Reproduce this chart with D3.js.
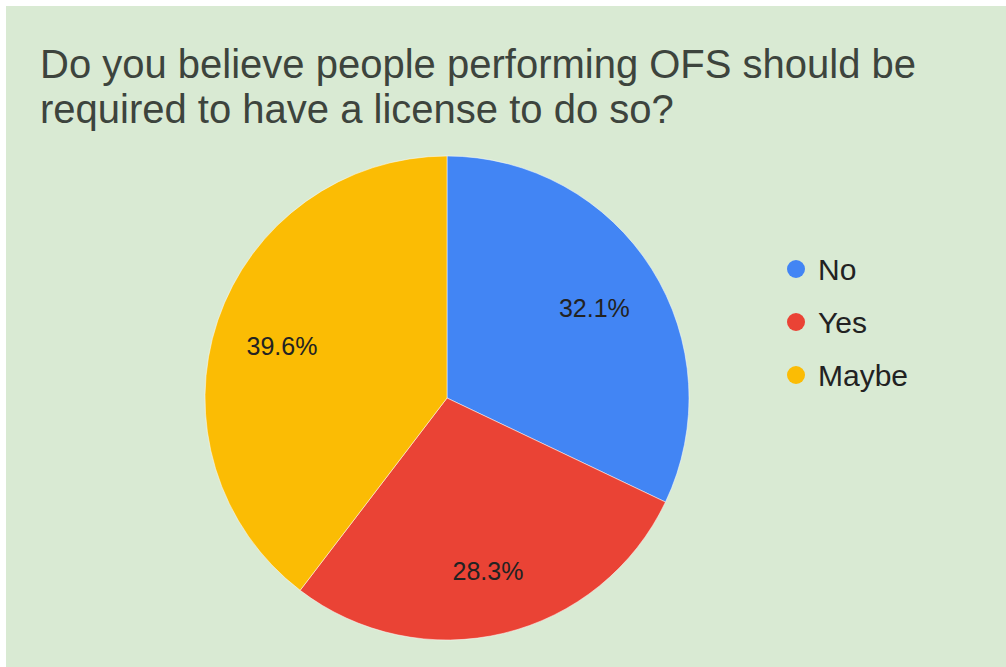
<!DOCTYPE html>
<html>
<head>
<meta charset="utf-8">
<script src="https://cdn.jsdelivr.net/npm/d3@7.9.0/dist/d3.min.js"></script>
<style>
  html, body { margin: 0; padding: 0; background: #fff; }
  svg { display: block; font-family: "Liberation Sans", Arial, sans-serif; }
</style>
</head>
<body>
<div id="chart"></div>
<script>
const titleLines = [
  "Do you believe people performing OFS should be",
  "required to have a license to do so?"
];
const categories = ["No", "Yes", "Maybe"];
const counts = [17, 15, 21];
const colors = ["#4285f4", "#ea4335", "#fbbc04"];

const width = 1006;
const height = 667;
const cx = 447;
const cy = 398;
const radius = 242;

const svg = d3.select("#chart")
  .append("svg")
  .attr("width", width)
  .attr("height", height);

// background panel (thin white strip at top/left like the screenshot)
svg.append("rect")
  .attr("x", 6)
  .attr("y", 6)
  .attr("width", width - 6)
  .attr("height", height - 6)
  .attr("fill", "#d9ead3");

svg.append("g")
  .selectAll("text")
  .data(titleLines)
  .join("text")
  .attr("x", 40)
  .attr("y", (d, i) => 78 + i * 45)
  .attr("font-size", 40)
  .attr("fill", "#3d443d")
  .text((d) => d);

const total = d3.sum(counts);
const pie = d3.pie().sort(null).value((d) => d.value);
const arcs = pie(categories.map((c, i) => ({ name: c, value: counts[i], color: colors[i] })));

const arc = d3.arc().innerRadius(0).outerRadius(radius);
const labelArc = d3.arc().innerRadius(radius * 0.72).outerRadius(radius * 0.72);

const g = svg.append("g").attr("transform", `translate(${cx},${cy})`);

g.selectAll("path")
  .data(arcs)
  .join("path")
  .attr("d", arc)
  .attr("fill", (d) => d.data.color)
  .attr("stroke", "#fff")
  .attr("stroke-width", 0.5);

g.selectAll("text")
  .data(arcs)
  .join("text")
  .attr("transform", (d) => `translate(${labelArc.centroid(d)})`)
  .attr("text-anchor", "middle")
  .attr("dy", "0.5em")
  .attr("font-size", 25)
  .attr("fill", "#222")
  .text((d) => d3.format(".1%")(d.data.value / total));

const legend = svg.append("g").attr("transform", "translate(796,269)");

const items = legend.selectAll("g")
  .data(arcs)
  .join("g")
  .attr("transform", (d, i) => `translate(0,${i * 53})`);

items.append("circle")
  .attr("r", 9)
  .attr("fill", (d) => d.data.color);

items.append("text")
  .attr("x", 22)
  .attr("dy", "0.36em")
  .attr("font-size", 30)
  .attr("fill", "#222")
  .text((d) => d.data.name);
</script>
</body>
</html>
